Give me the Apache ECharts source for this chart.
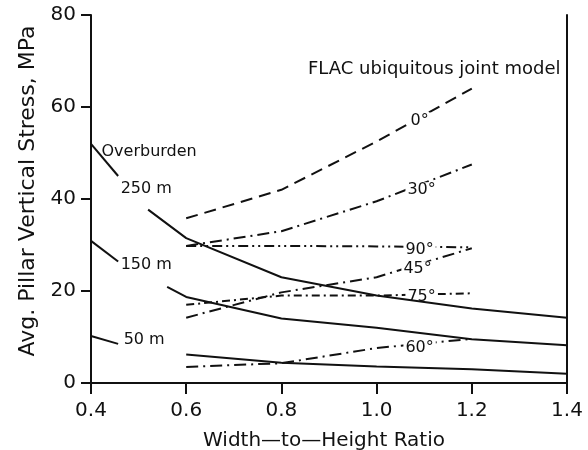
<!DOCTYPE html>
<html>
<head>
<meta charset="utf-8">
<script src="https://cdn.jsdelivr.net/npm/echarts@6/dist/echarts.min.js"></script>
<style>
  html, body { margin: 0; padding: 0; background: #fff; }
  #chart { width: 588px; height: 450px; }
</style>
</head>
<body>
<div id="chart"></div>
<script>
// overburden curves (solid)
const stubX = [0.4, 0.457];
const stub250 = [52, 45];
const stub150 = [30.9, 26.4];
const stub50 = [10.2, 8.5];

const x250 = [0.52, 0.6, 0.8, 1.0, 1.2, 1.4];
const y250 = [37.7, 31.5, 23, 19, 16.2, 14.2];
const x150 = [0.56, 0.6, 0.8, 1.0, 1.2, 1.4];
const y150 = [20.9, 18.7, 14, 12, 9.5, 8.2];
const x50 = [0.6, 0.8, 1.0, 1.2, 1.4];
const y50 = [6.2, 4.4, 3.6, 3.0, 2.0];

// FLAC joint angle curves
const angleX = [0.6, 0.8, 1.0, 1.2];
const ang0 = [35.8, 42, 52.5, 64];
const ang30 = [29.8, 33, 39.5, 47.5];
const ang90 = [29.8, 29.8, 29.7, 29.5];
const ang45 = [14.2, 19.7, 23, 29.3];
const ang75 = [17, 19, 19, 19.5];
const ang60 = [3.5, 4.3, 7.6, 9.6];

const xTicks = ['0.4', '0.6', '0.8', '1.0', '1.2', '1.4'];
const yTicks = ['0', '20', '40', '60', '80'];

const FONT = 'DejaVu Sans';
const INK = '#111';

function pts(xs, ys) {
  return xs.map((x, i) => [x, ys[i]]);
}

// put a text label on one point of a line
function withLabel(data, idx, text, opts) {
  data[idx] = {
    value: data[idx],
    label: Object.assign({
      show: true,
      formatter: text,
      color: INK,
      fontFamily: FONT,
      fontSize: 16
    }, opts)
  };
  return data;
}

// symbols kept (invisible) so that point labels are drawn
const hidden = {
  symbol: 'circle', symbolSize: 1, showSymbol: true,
  itemStyle: { color: 'rgba(0,0,0,0)', borderWidth: 0 }
};

function solid(name, data) {
  return Object.assign({
    name: name, type: 'line', data: data,
    lineStyle: { color: INK, width: 2, type: 'solid' },
    silent: true, z: 3
  }, hidden);
}

function angle(name, data, dash, off) {
  return Object.assign({
    name: name, type: 'line',
    data: withLabel(pts(angleX, data), 2, name, {
      position: 'inside', offset: off,
      backgroundColor: '#fff', padding: [0, 2]
    }),
    lineStyle: { color: INK, width: 2, type: dash },
    silent: true, z: 2
  }, hidden);
}

const chart = echarts.init(document.getElementById('chart'));

let option = {
  backgroundColor: '#fff',
  animation: false,
  title: {
    text: 'FLAC ubiquitous joint model',
    left: 303, top: 55,
    textStyle: { fontFamily: FONT, fontSize: 18, fontWeight: 'normal', color: INK }
  },
  grid: { left: 91, right: 21, top: 15, bottom: 67, outerBoundsMode: 'none' },
  xAxis: [{
    type: 'value', min: 0.4, max: 1.4, interval: 0.2,
    name: 'Width\u2014to\u2014Height Ratio',
    nameLocation: 'middle', nameGap: 48,
    nameTextStyle: { fontFamily: FONT, fontSize: 20, color: INK, padding: [0, 10, 0, 0] },
    axisLine: { lineStyle: { color: INK, width: 2 } },
    axisTick: { length: 11, lineStyle: { color: INK, width: 2 } },
    axisLabel: {
      margin: 18, fontFamily: FONT, fontSize: 20, color: INK,
      formatter: v => xTicks[Math.round((v - 0.4) / 0.2)]
    },
    splitLine: { show: false }
  }, {
    type: 'value', position: 'top', min: 0.4, max: 1.4,
    axisLine: { show: true, lineStyle: { color: INK, width: 2 } },
    axisTick: { show: false }, axisLabel: { show: false }, splitLine: { show: false }
  }],
  yAxis: [{
    type: 'value', min: 0, max: 80, interval: 20,
    name: 'Avg. Pillar Vertical Stress, MPa',
    nameLocation: 'middle', nameGap: 52,
    nameTextStyle: { fontFamily: FONT, fontSize: 22, color: INK, padding: [0, 0, 0, 16] },
    axisLine: { show: true, lineStyle: { color: INK, width: 2 } },
    axisTick: { length: 10, lineStyle: { color: INK, width: 2 } },
    axisLabel: {
      margin: 15, fontFamily: FONT, fontSize: 20, color: INK,
      formatter: v => yTicks[v / 20]
    },
    splitLine: { show: false }
  }, {
    type: 'value', position: 'right', min: 0, max: 80,
    axisLine: { show: true, lineStyle: { color: INK, width: 2 } },
    axisTick: { show: false }, axisLabel: { show: false }, splitLine: { show: false }
  }],
  series: [
    solid('250 m stub', withLabel(withLabel(pts(stubX, stub250), 0, 'Overburden',
      { position: 'right', distance: 10, offset: [0, 8] }), 1, '250 m',
      { position: 'right', distance: 2, offset: [0, 13] })),
    solid('150 m stub', withLabel(pts(stubX, stub150), 1, '150 m',
      { position: 'right', distance: 2, offset: [0, 3] })),
    solid('50 m stub', withLabel(pts(stubX, stub50), 1, '50 m',
      { position: 'right', distance: 5, offset: [0, -4] })),
    solid('250 m', pts(x250, y250)),
    solid('150 m', pts(x150, y150)),
    solid('50 m', pts(x50, y50)),
    angle('0\u00b0', ang0, [12, 7], [43, -21]),
    angle('30\u00b0', ang30, [12, 5, 2, 5], [45, -11]),
    angle('90\u00b0', ang90, [10, 4, 2, 4, 2, 4], [43, 3]),
    angle('45\u00b0', ang45, [12, 5, 2, 5], [41, -8]),
    angle('75\u00b0', ang75, [8, 4, 2, 4], [45, 1]),
    angle('60\u00b0', ang60, [12, 5, 2, 5], [43, 0])
  ]
};

chart.setOption(option, true);
</script>
</body>
</html>
